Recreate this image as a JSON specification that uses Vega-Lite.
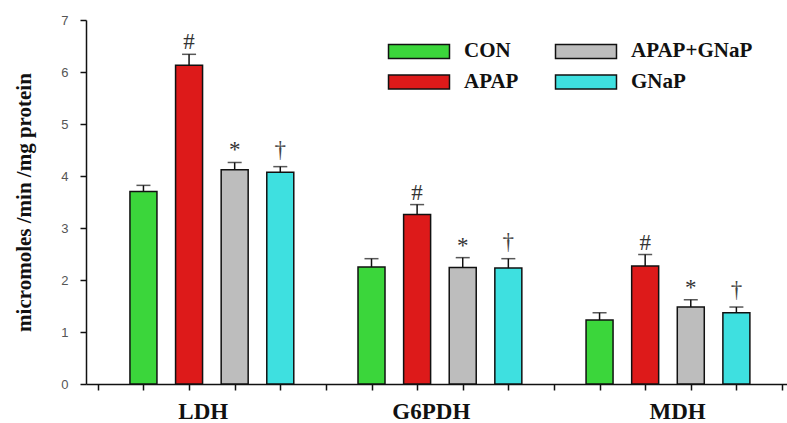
{
  "$schema": "https://vega.github.io/schema/vega-lite/v6.json",
  "width": 701,
  "height": 364,
  "autosize": "none",
  "padding": {"left": 86, "top": 20, "right": 0, "bottom": 39},
  "background": "white",
  "config": {"view": {"stroke": null}},
  "data": {
    "values": [
      {"enzyme": "LDH", "treatment": "CON", "pos": 1, "value": 3.70, "upper": 3.82, "sig": ""},
      {"enzyme": "LDH", "treatment": "APAP", "pos": 2, "value": 6.13, "upper": 6.34, "sig": "#"},
      {"enzyme": "LDH", "treatment": "APAP+GNaP", "pos": 3, "value": 4.12, "upper": 4.26, "sig": "*"},
      {"enzyme": "LDH", "treatment": "GNaP", "pos": 4, "value": 4.07, "upper": 4.18, "sig": "†"},
      {"enzyme": "G6PDH", "treatment": "CON", "pos": 6, "value": 2.25, "upper": 2.41, "sig": ""},
      {"enzyme": "G6PDH", "treatment": "APAP", "pos": 7, "value": 3.26, "upper": 3.45, "sig": "#"},
      {"enzyme": "G6PDH", "treatment": "APAP+GNaP", "pos": 8, "value": 2.24, "upper": 2.43, "sig": "*"},
      {"enzyme": "G6PDH", "treatment": "GNaP", "pos": 9, "value": 2.23, "upper": 2.41, "sig": "†"},
      {"enzyme": "MDH", "treatment": "CON", "pos": 11, "value": 1.23, "upper": 1.37, "sig": ""},
      {"enzyme": "MDH", "treatment": "APAP", "pos": 12, "value": 2.27, "upper": 2.49, "sig": "#"},
      {"enzyme": "MDH", "treatment": "APAP+GNaP", "pos": 13, "value": 1.48, "upper": 1.62, "sig": "*"},
      {"enzyme": "MDH", "treatment": "GNaP", "pos": 14, "value": 1.37, "upper": 1.48, "sig": "†"}
    ]
  },
  "resolve": {"axis": {"x": "independent"}},
  "layer": [
    {
      "mark": {"type": "bar", "size": 27, "stroke": "#111111", "strokeWidth": 1.5},
      "encoding": {
        "x": {
          "field": "pos", "type": "quantitative",
          "scale": {"domain": [-0.15, 15], "nice": false, "zero": false},
          "axis": {
            "orient": "bottom",
            "values": [0,1,2,3,4,5,6,7,8,9,10,11,12,13,14,15],
            "labels": false, "title": null, "grid": false,
            "ticks": true, "tickSize": 6, "tickColor": "#111111", "tickWidth": 1.5,
            "domainColor": "#111111", "domainWidth": 1.5
          }
        },
        "y": {
          "field": "value", "type": "quantitative",
          "scale": {"domain": [0, 7], "nice": false},
          "axis": {
            "values": [0,1,2,3,4,5,6,7],
            "format": "d",
            "title": "micromoles /min /mg protein",
            "titleFont": "Liberation Serif", "titleFontWeight": "bold", "titleFontSize": 21,
            "titleColor": "#111111", "titlePadding": 26,
            "labelFont": "Liberation Sans", "labelFontSize": 13, "labelColor": "#555555",
            "labelPadding": 12,
            "grid": false, "tickSize": 6, "tickColor": "#111111", "tickWidth": 1.5,
            "domainColor": "#111111", "domainWidth": 1.5
          }
        },
        "color": {
          "field": "treatment", "type": "nominal",
          "scale": {
            "domain": ["CON", "APAP", "APAP+GNaP", "GNaP"],
            "range": ["#3bd63b", "#dd1a1a", "#bdbdbd", "#3ee0e0"]
          },
          "legend": {
            "title": null, "orient": "none", "legendX": 317, "legendY": 15,
            "direction": "vertical",
            "columns": 2, "columnPadding": 33, "rowPadding": 4,
            "symbolType": "M-2,-0.46H2V0.46H-2Z", "symbolSize": 930,
            "symbolStrokeColor": "#111111", "symbolStrokeWidth": 1.5,
            "labelFont": "Liberation Serif", "labelFontWeight": "bold", "labelFontSize": 21,
            "labelColor": "#111111", "labelOffset": 29
          }
        }
      }
    },
    {
      "mark": {"type": "rule", "color": "#111111", "strokeWidth": 1.5},
      "encoding": {
        "x": {"field": "pos", "type": "quantitative", "axis": null},
        "y": {"field": "value", "type": "quantitative"},
        "y2": {"field": "upper"}
      }
    },
    {
      "mark": {"type": "tick", "orient": "horizontal", "color": "#111111", "size": 14, "thickness": 1.5},
      "encoding": {
        "x": {"field": "pos", "type": "quantitative", "axis": null},
        "y": {"field": "upper", "type": "quantitative"}
      }
    },
    {
      "transform": [{"filter": "datum.sig == '#' || datum.sig == '*'"}],
      "mark": {"type": "text", "font": "Liberation Serif", "fontSize": 23, "color": "#333333", "baseline": "alphabetic", "dy": -5},
      "encoding": {
        "x": {
          "field": "pos", "type": "quantitative",
          "axis": {
            "orient": "bottom",
            "values": [2.3, 7.3, 12.7],
            "labelExpr": "datum.value == 2.3 ? 'LDH' : (datum.value == 7.3 ? 'G6PDH' : 'MDH')",
            "labelFont": "Liberation Serif", "labelFontWeight": "bold", "labelFontSize": 23,
            "labelColor": "#111111", "labelPadding": 16,
            "ticks": false, "domain": false, "grid": false, "title": null
          }
        },
        "y": {"field": "upper", "type": "quantitative"},
        "text": {"field": "sig"}
      }
    },
    {
      "transform": [{"filter": "datum.sig == '†'"}],
      "mark": {"type": "text", "font": "Liberation Serif", "fontSize": 23, "color": "#444444", "baseline": "alphabetic", "dy": -10},
      "encoding": {
        "x": {"field": "pos", "type": "quantitative", "axis": null},
        "y": {"field": "upper", "type": "quantitative"},
        "text": {"field": "sig"}
      }
    }
  ]
}
